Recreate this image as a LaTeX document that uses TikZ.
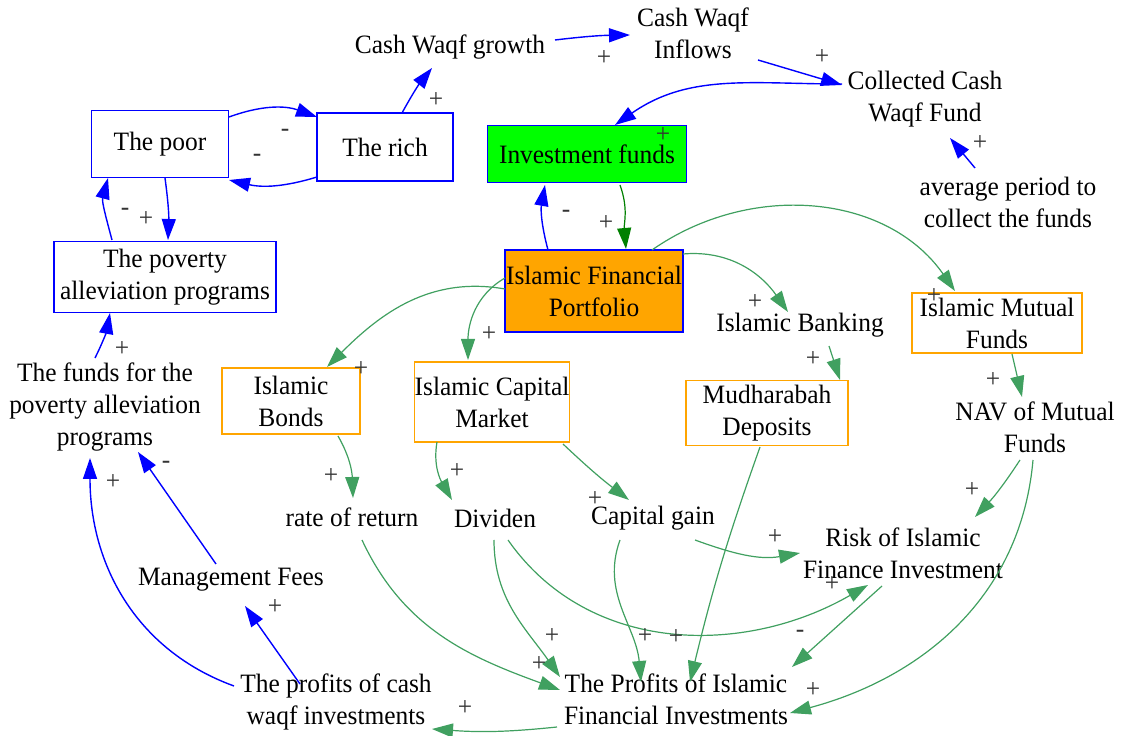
\documentclass[tikz,border=0pt]{standalone}
\usepackage{fontspec}
\setmainfont{Liberation Serif}[FakeStretch=0.96]
\usetikzlibrary{arrows.meta,calc}
\definecolor{linkgreen}{RGB}{64,160,96}
\definecolor{darkgreen}{RGB}{0,128,0}
\definecolor{polgray}{RGB}{51,51,51}
\definecolor{boxorange}{RGB}{255,165,0}

\begin{document}
\begin{tikzpicture}[x=1pt,y=1pt,
    font=\fontsize{26.5}{32}\selectfont,
    var/.style={align=center,inner sep=1pt},
    box/.style={draw=blue,line width=1.2pt,align=center,inner sep=0pt},
    obox/.style={box,draw=boxorange},
    pol/.style={text=polgray,inner sep=0pt},
    blink/.style={blue,line width=1.4pt,-{Triangle[length=21pt,width=14pt]}},
    glink/.style={linkgreen,line width=1.2pt,-{Triangle[length=21pt,width=14pt]}}]
  \useasboundingbox (0,0) rectangle (1125,736);

  % boxed stocks
  \node[box,minimum width=137,minimum height=67] (poor) at (160,592) {The poor};
  \node[box,minimum width=136,minimum height=68] (rich) at (385,589) {The rich};
  \node[box,fill=green,minimum width=199,minimum height=57] (invfunds) at (587,582) {Investment funds};
  \node[box,minimum width=222,minimum height=71] (programs) at (165,459) {The poverty\\alleviation programs};
  \node[box,fill=boxorange,minimum width=178,minimum height=82] (portfolio) at (594,445) {Islamic Financial\\Portfolio};
  \node[obox,minimum width=170,minimum height=60] (mutualfunds) at (997,413) {Islamic Mutual\\Funds};
  \node[obox,minimum width=138,minimum height=66] (bonds) at (291,335) {Islamic\\Bonds};
  \node[obox,minimum width=147,minimum height=80] (capmkt) at (492,334) {Islamic Capital\\Market};
  \node[obox,minimum width=162,minimum height=65] (mudharabah) at (767,323) {Mudharabah\\Deposits};

  % plain variables
  \node[var] (growth) at (450,689) {Cash Waqf growth};
  \node[var] (inflows) at (693,703) {Cash Waqf\\Inflows};
  \node[var] (collected) at (925,637) {Collected Cash\\Waqf Fund};
  \node[var] (avgperiod) at (1008,534) {average period to\\collect the funds};
  \node[var] (banking) at (800,411) {Islamic Banking};
  \node[var] (nav) at (1035,309) {NAV of Mutual\\Funds};
  \node[var] (fundsprog) at (105,329) {The funds for the\\poverty alleviation\\programs};
  \node[var] (rate) at (352,219) {rate of return};
  \node[var] (dividen) at (495,218) {Dividen};
  \node[var] (capgain) at (653,218) {Capital gain};
  \node[var] (risk) at (903,183) {Risk of Islamic\\Finance Investment};
  \node[var] (mgmtfees) at (231,156) {Management Fees};
  \node[var] (cashprofits) at (336,34) {The profits of cash\\waqf investments};
  \node[var] (ifiprofits) at (676,37) {The Profits of Islamic\\Financial Investments};

  % blue links
  \draw[blink] ($(poor)+(69,27)$) to[bend left=20] ($(rich)+(-68,30)$);
  \draw[blink] ($(rich)+(-68,-30)$) to[bend left=15] ($(poor)+(69,-36)$);
  \draw[blink] ($(rich)+(17,34)$) to[bend left=5] ($(growth)+(-18,-21)$);
  \draw[blink] ($(growth)+(105,7)$) to[bend left=3] ($(inflows)+(-63,-2)$);
  \draw[blink] ($(inflows)+(65,-27)$) -- ($(collected)+(-83,14)$);
  \draw[blink] ($(collected)+(-83,15)$) to[out=180,in=35] ($(invfunds)+(28,29)$);
  \draw[blink] ($(avgperiod)+(-33,34)$) -- ($(collected)+(25,-39)$);
  \draw[blink] ($(portfolio)+(-46,41)$) to[out=105,in=-100] ($(invfunds)+(-42,-31)$);
  \draw[blink] ($(poor)+(5,-34)$) to[bend left=5] ($(programs)+(3,37)$);
  \draw[blink] ($(programs)+(-53,37)$) to[out=105,in=-105] ($(poor)+(-52,-34)$);
  \draw[blink] ($(fundsprog)+(-10,49)$) to[bend right=8] ($(programs)+(-55,-36)$);
  \draw[blink] ($(mgmtfees)+(-15,16)$) -- ($(fundsprog)+(33,-45)$);
  \draw[blink] ($(cashprofits)+(-102,16)$) to[out=160,in=-90] ($(fundsprog)+(-15,-51)$);
  \draw[blink] ($(cashprofits)+(-36,18)$) -- ($(mgmtfees)+(14,-26)$);

  % green links
  \draw[darkgreen,line width=1.2pt,-{Triangle[length=21pt,width=14pt]}]
    ($(invfunds)+(33,-31)$) to[out=-70,in=95] ($(portfolio)+(32,42)$);
  \draw[glink] ($(portfolio)+(-89,2)$) to[out=170,in=45] ($(bonds)+(36,34)$);
  \draw[glink] ($(portfolio)+(-89,13)$) to[out=210,in=90] ($(capmkt)+(-24,42)$);
  \draw[glink] ($(portfolio)+(89,37)$) to[out=5,in=125] ($(banking)+(-12,13)$);
  \draw[glink] ($(portfolio)+(58,41)$) to[out=35,in=125] ($(mutualfunds)+(-42,32)$);
  \draw[glink] ($(banking)+(29,-21)$) -- ($(mudharabah)+(73,33)$);
  \draw[glink] ($(mutualfunds)+(15,-31)$) -- ($(nav)+(-13,30)$);
  \draw[glink] ($(bonds)+(47,-35)$) to[out=-60,in=92] ($(rate)+(1,19)$);
  \draw[glink] ($(capmkt)+(-55,-40)$) to[out=-100,in=120] ($(dividen)+(-43,18)$);
  \draw[glink] ($(capmkt)+(71,-42)$) to[bend right=3] ($(capgain)+(-24,18)$);
  \draw[glink] ($(rate)+(10,-23)$) to[out=-65,in=160] ($(ifiprofits)+(-116,9)$);
  \draw[glink] ($(dividen)+(-1,-22)$) to[out=-90,in=125] ($(ifiprofits)+(-116,22)$);
  \draw[glink] ($(dividen)+(13,-22)$) to[out=-55,in=210] ($(risk)+(-35,-32)$);
  \draw[glink] ($(capgain)+(-33,-22)$) to[out=-110,in=95] ($(ifiprofits)+(-35,17)$);
  \draw[glink] ($(capgain)+(42,-22)$) to[out=-20,in=190] ($(risk)+(-103,0)$);
  \draw[glink] ($(mudharabah)+(-7,-34)$) to[bend right=3] ($(ifiprofits)+(14,17)$);
  \draw[glink] ($(nav)+(-15,-33)$) to[bend left=5] ($(risk)+(72,36)$);
  \draw[glink] ($(nav)+(-2,-33)$) to[out=-95,in=15] ($(ifiprofits)+(114,-14)$);
  \draw[glink] ($(risk)+(-21,-33)$) -- ($(ifiprofits)+(116,32)$);
  \draw[glink] ($(ifiprofits)+(-119,-28)$) to[bend left=5] ($(cashprofits)+(96,-27)$);

  % polarity signs
  \foreach \px/\py/\s [count=\i] in {285/603/-, 257/578/-, 436/636/+, 604/678/+,
      822/679/+, 663/601/+, 980/593/+, 606/513/+, 566/522/-, 146/517/+, 125/524/-,
      122/387/+, 166/271/-, 113/254/+, 275/129/+, 465/28/+, 361/367/+, 489/402/+,
      755/434/+, 934/440/+, 813/377/+, 993/356/+, 331/260/+, 457/265/+, 595/237/+,
      539/72/+, 552/100/+, 832/152/+, 645/100/+, 775/199/+, 676/99/+, 972/246/+,
      813/46/+, 800/102/-}
    \node[pol] (sign\i) at (\px,\py) {\s};
\end{tikzpicture}
\end{document}
